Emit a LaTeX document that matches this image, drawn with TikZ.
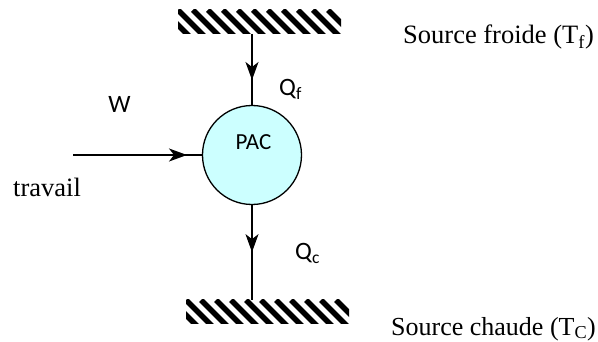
\documentclass[tikz,border=0pt]{standalone}
\usepackage{fontspec}
\setmainfont{Liberation Serif}
\newfontfamily\labelfont{Carlito}
\usetikzlibrary{arrows.meta,decorations.markings}

\definecolor{pacfill}{RGB}{204,255,255}

\begin{document}
\begin{tikzpicture}[x=1pt,y=-1pt,
  flow/.style={line width=1.5pt},
  hatchbar/.style={minimum width=163pt, minimum height=24pt, inner sep=0pt, outer sep=0pt,
    path picture={\foreach \k in {-3,...,12}{\draw[line width=5.5pt] ([xshift=\k*15pt]path picture bounding box.north west) -- ++(26pt,-26pt);}}},
  midarrow/.style={postaction={decorate}, decoration={markings,
    mark=at position #1 with {\arrow{Stealth[length=18pt,width=13pt,inset=5pt]}}}},
  serif/.style={font=\fontsize{26.5}{30}\selectfont, inner sep=0pt},
  sans/.style={font=\labelfont\fontsize{#1}{28}\selectfont, inner sep=0pt},
]
\useasboundingbox (0,0) rectangle (598,342);

% reservoirs
\node[hatchbar] (froid) at (259.5,22) {};
\node[hatchbar] (chaud) at (267.5,312) {};

% heat pump
\node[circle, draw, line width=1.3pt, fill=pacfill, minimum size=99pt, inner sep=0pt] (pac) at (252,155) {};
\node[sans=23, anchor=base] (pactext) at (253.5,150) {PAC};

% work input
\coordinate (wstart) at (73,155);

% energy flows
\draw[flow, midarrow=46pt] (froid.south -| pac.center) -- (pac.north);
\draw[flow, midarrow=114pt] (wstart) -- (pac.west);
\draw[flow, midarrow=47pt] (pac.south) -- (chaud.north -| pac.center);

% labels
\node[serif, anchor=base west] (tf) at (403,44) {Source froide (T\textsubscript{f})};
\node[serif, anchor=base west, font=\fontsize{26}{30}\selectfont] (tc) at (391,335) {Source chaude (T\textsubscript{C})};
\node[serif, anchor=base west] (trav) at (13,197) {travail};
\node[sans=25, anchor=base] (w) at (119.5,113) {W};
\node[sans=25, anchor=base west] (qf) at (279,96) {Q\textsubscript{f}};
\node[sans=25, anchor=base west] (qc) at (295,260) {Q\textsubscript{c}};
\end{tikzpicture}
\end{document}
